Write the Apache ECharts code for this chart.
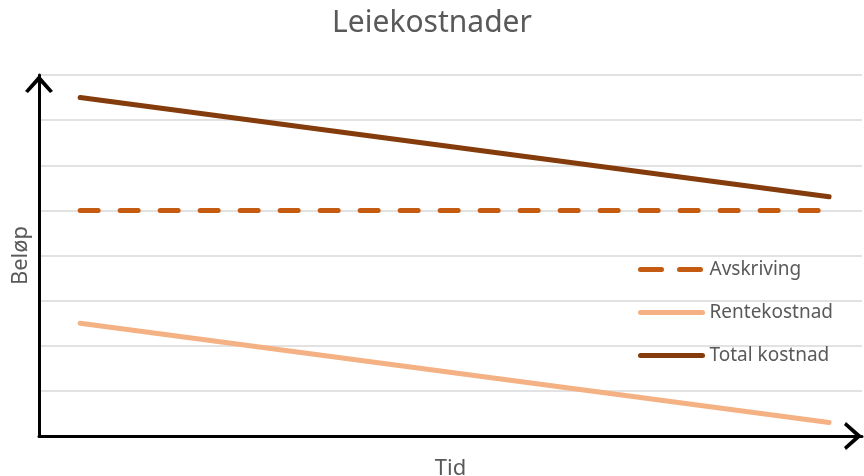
<!DOCTYPE html>
<html>
<head>
<meta charset="utf-8">
<script src="https://cdn.jsdelivr.net/npm/echarts@6/dist/echarts.min.js"></script>
<style>
  html, body { margin: 0; padding: 0; background: #fff; }
  #chart { width: 864px; height: 476px; }
</style>
</head>
<body>
<div id="chart"></div>
<script>
// tidspunkt (start og slutt) og beløp lest av figuren
const tid = [5, 96];
const avskriving = [5, 5];
const rentekostnad = [2.5, 0.3];
const totalKostnad = [7.5, 5.3];
const serieNavn = ['Avskriving', 'Rentekostnad', 'Total kostnad'];

// åpen pil ("^") for aksene
const pil = 'path://M0,16 L14,0 L28,16 L25,18 L14,6 L3,18 Z';

function par(xs, ys) {
    return xs.map(function (x, i) { return [x, ys[i]]; });
}

const chart = echarts.init(document.getElementById('chart'));

const tekst = {
    fontFamily: 'Noto Sans',
    color: '#595959'
};

const option = {
    animation: false,
    title: {
        text: 'Leiekostnader',
        left: 'center',
        top: 3,
        textStyle: Object.assign({ fontSize: 30, fontWeight: 'normal' }, tekst)
    },
    legend: {
        orient: 'vertical',
        left: 638,
        top: 260,
        padding: 0,
        itemWidth: 62,
        itemHeight: 14,
        itemGap: 24,
        itemStyle: { opacity: 0 },
        lineStyle: { width: 5, cap: 'round' },
        data: [
            { name: serieNavn[0], lineStyle: { type: [21, 18] } },
            { name: serieNavn[1] },
            { name: serieNavn[2] }
        ],
        textStyle: Object.assign({ fontSize: 19, padding: [0, 0, 0, 2] }, tekst)
    },
    grid: {
        left: 39,
        right: 2,
        top: 75,
        bottom: 40,
        outerBoundsMode: 'none'
    },
    xAxis: {
        type: 'value',
        min: 0,
        max: 100,
        name: 'Tid',
        nameLocation: 'middle',
        nameGap: 22,
        nameTextStyle: Object.assign({ fontSize: 22 }, tekst),
        axisLine: {
            show: true,
            symbol: ['none', pil],
            symbolSize: [28, 18],
            symbolOffset: [0, -9],
            lineStyle: { color: '#000', width: 3 }
        },
        axisTick: { show: false },
        axisLabel: { show: false },
        splitLine: { show: false }
    },
    yAxis: {
        type: 'value',
        min: 0,
        max: 8,
        interval: 1,
        name: 'Beløp',
        nameLocation: 'middle',
        nameGap: 7,
        nameTextStyle: Object.assign({ fontSize: 22 }, tekst),
        axisLine: {
            show: true,
            symbol: ['none', pil],
            symbolSize: [28, 18],
            symbolOffset: [0, -9],
            lineStyle: { color: '#000', width: 3 }
        },
        axisTick: { show: false },
        axisLabel: { show: false },
        splitLine: {
            show: true,
            lineStyle: { color: '#d9d9d9', width: 1.5 }
        }
    },
    series: [
        {
            name: serieNavn[0],
            type: 'line',
            data: par(tid, avskriving),
            symbol: 'none',
            lineStyle: { color: '#C55A11', width: 5, type: [18, 22], cap: 'round' },
            itemStyle: { color: '#C55A11' }
        },
        {
            name: serieNavn[1],
            type: 'line',
            data: par(tid, rentekostnad),
            symbol: 'none',
            lineStyle: { color: '#F4B183', width: 5, cap: 'round' },
            itemStyle: { color: '#F4B183' }
        },
        {
            name: serieNavn[2],
            type: 'line',
            data: par(tid, totalKostnad),
            symbol: 'none',
            lineStyle: { color: '#843C0C', width: 5, cap: 'round' },
            itemStyle: { color: '#843C0C' }
        }
    ]
};

chart.setOption(option);
</script>
</body>
</html>
